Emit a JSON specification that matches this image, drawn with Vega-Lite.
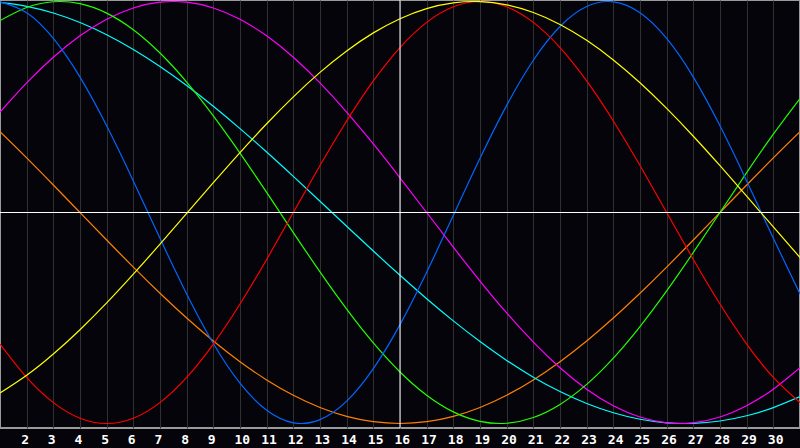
{
  "$schema": "https://vega.github.io/schema/vega-lite/v6.json",
  "width": 800,
  "height": 428,
  "autosize": {"type": "none"},
  "padding": {"left": 0, "top": 0, "right": 0, "bottom": 20},
  "background": "#05040a",
  "config": {
    "view": {"stroke": "#9a9a9a", "strokeWidth": 2},
    "axis": {"labelOverlap": false, "labelSeparation": 0, "labelBound": false}
  },
  "data": {"values": [
    {"day": 1, "Emotional": -0.6235, "Physical": 0.9985, "Intellectual": 0.9096, "Intuitive": 0.4759, "Aesthetic": -0.8558, "Awareness": 0.3827, "Spiritual": 0.9955},
    {"day": 2, "Emotional": -0.7818, "Physical": 0.9468, "Intellectual": 0.9718, "Intuitive": 0.6142, "Aesthetic": -0.7716, "Awareness": 0.2588, "Spiritual": 0.9773},
    {"day": 3, "Emotional": -0.9010, "Physical": 0.8248, "Intellectual": 0.9989, "Intuitive": 0.7357, "Aesthetic": -0.6706, "Awareness": 0.1305, "Spiritual": 0.9454},
    {"day": 4, "Emotional": -0.9749, "Physical": 0.6416, "Intellectual": 0.9898, "Intuitive": 0.8372, "Aesthetic": -0.5555, "Awareness": 0, "Spiritual": 0.9002},
    {"day": 5, "Emotional": -1, "Physical": 0.4108, "Intellectual": 0.9450, "Intuitive": 0.9158, "Aesthetic": -0.4285, "Awareness": -0.1305, "Spiritual": 0.8425},
    {"day": 6, "Emotional": -0.9749, "Physical": 0.1497, "Intellectual": 0.8660, "Intuitive": 0.9694, "Aesthetic": -0.2922, "Awareness": -0.2588, "Spiritual": 0.7727},
    {"day": 7, "Emotional": -0.9010, "Physical": -0.1226, "Intellectual": 0.7557, "Intuitive": 0.9966, "Aesthetic": -0.1499, "Awareness": -0.3827, "Spiritual": 0.6921},
    {"day": 8, "Emotional": -0.7818, "Physical": -0.3859, "Intellectual": 0.6182, "Intuitive": 0.9966, "Aesthetic": -0.0044, "Awareness": -0.5, "Spiritual": 0.6020},
    {"day": 9, "Emotional": -0.6235, "Physical": -0.6206, "Intellectual": 0.4582, "Intuitive": 0.9694, "Aesthetic": 0.1412, "Awareness": -0.6088, "Spiritual": 0.5035},
    {"day": 10, "Emotional": -0.4339, "Physical": -0.8090, "Intellectual": 0.2817, "Intuitive": 0.9158, "Aesthetic": 0.2839, "Awareness": -0.7071, "Spiritual": 0.3977},
    {"day": 11, "Emotional": -0.2225, "Physical": -0.9376, "Intellectual": 0.0950, "Intuitive": 0.8372, "Aesthetic": 0.4205, "Awareness": -0.7934, "Spiritual": 0.2864},
    {"day": 12, "Emotional": 0, "Physical": -0.9966, "Intellectual": -0.0950, "Intuitive": 0.7357, "Aesthetic": 0.5483, "Awareness": -0.8660, "Spiritual": 0.1710},
    {"day": 13, "Emotional": 0.2225, "Physical": -0.9818, "Intellectual": -0.2817, "Intuitive": 0.6142, "Aesthetic": 0.6641, "Awareness": -0.9239, "Spiritual": 0.0534},
    {"day": 14, "Emotional": 0.4339, "Physical": -0.8941, "Intellectual": -0.4582, "Intuitive": 0.4759, "Aesthetic": 0.7658, "Awareness": -0.9659, "Spiritual": -0.0652},
    {"day": 15, "Emotional": 0.6235, "Physical": -0.7399, "Intellectual": -0.6182, "Intuitive": 0.3247, "Aesthetic": 0.8513, "Awareness": -0.9914, "Spiritual": -0.1827},
    {"day": 16, "Emotional": 0.7818, "Physical": -0.5313, "Intellectual": -0.7557, "Intuitive": 0.1646, "Aesthetic": 0.9186, "Awareness": -1, "Spiritual": -0.2977},
    {"day": 17, "Emotional": 0.9010, "Physical": -0.2829, "Intellectual": -0.8660, "Intuitive": 0, "Aesthetic": 0.9664, "Awareness": -0.9914, "Spiritual": -0.4085},
    {"day": 18, "Emotional": 0.9749, "Physical": -0.0136, "Intellectual": -0.9450, "Intuitive": -0.1646, "Aesthetic": 0.9935, "Awareness": -0.9659, "Spiritual": -0.5136},
    {"day": 19, "Emotional": 1, "Physical": 0.2567, "Intellectual": -0.9898, "Intuitive": -0.3247, "Aesthetic": 0.9995, "Awareness": -0.9239, "Spiritual": -0.6116},
    {"day": 20, "Emotional": 0.9749, "Physical": 0.5077, "Intellectual": -0.9989, "Intuitive": -0.4759, "Aesthetic": 0.9842, "Awareness": -0.8660, "Spiritual": -0.7009},
    {"day": 21, "Emotional": 0.9010, "Physical": 0.7215, "Intellectual": -0.9718, "Intuitive": -0.6142, "Aesthetic": 0.9478, "Awareness": -0.7934, "Spiritual": -0.7803},
    {"day": 22, "Emotional": 0.7818, "Physical": 0.8815, "Intellectual": -0.9096, "Intuitive": -0.7357, "Aesthetic": 0.8913, "Awareness": -0.7071, "Spiritual": -0.8487},
    {"day": 23, "Emotional": 0.6235, "Physical": 0.9762, "Intellectual": -0.8146, "Intuitive": -0.8372, "Aesthetic": 0.8158, "Awareness": -0.6088, "Spiritual": -0.9054},
    {"day": 24, "Emotional": 0.4339, "Physical": 0.9985, "Intellectual": -0.6901, "Intuitive": -0.9158, "Aesthetic": 0.7230, "Awareness": -0.5, "Spiritual": -0.9492},
    {"day": 25, "Emotional": 0.2225, "Physical": 0.9468, "Intellectual": -0.5406, "Intuitive": -0.9694, "Aesthetic": 0.6148, "Awareness": -0.3827, "Spiritual": -0.9797},
    {"day": 26, "Emotional": 0, "Physical": 0.8248, "Intellectual": -0.3717, "Intuitive": -0.9966, "Aesthetic": 0.4932, "Awareness": -0.2588, "Spiritual": -0.9966},
    {"day": 27, "Emotional": -0.2225, "Physical": 0.6416, "Intellectual": -0.1893, "Intuitive": -0.9966, "Aesthetic": 0.3614, "Awareness": -0.1305, "Spiritual": -0.9994},
    {"day": 28, "Emotional": -0.4339, "Physical": 0.4108, "Intellectual": 0, "Intuitive": -0.9694, "Aesthetic": 0.2217, "Awareness": 0, "Spiritual": -0.9881},
    {"day": 29, "Emotional": -0.6235, "Physical": 0.1497, "Intellectual": 0.1893, "Intuitive": -0.9158, "Aesthetic": 0.0774, "Awareness": 0.1305, "Spiritual": -0.9631},
    {"day": 30, "Emotional": -0.7818, "Physical": -0.1226, "Intellectual": 0.3717, "Intuitive": -0.8372, "Aesthetic": -0.0685, "Awareness": 0.2588, "Spiritual": -0.9245},
    {"day": 31, "Emotional": -0.9010, "Physical": -0.3859, "Intellectual": 0.5406, "Intuitive": -0.7357, "Aesthetic": -0.2132, "Awareness": 0.3827, "Spiritual": -0.8727}
  ]},
  "layer": [
    {
      "transform": [{"fold": ["Awareness", "Spiritual", "Intuitive", "Intellectual", "Physical", "Emotional", "Aesthetic"], "as": ["series", "value"]}],
      "mark": {"type": "line", "interpolate": "natural", "strokeWidth": 1.2},
      "encoding": {
        "x": {
          "field": "day", "type": "quantitative",
          "scale": {"domain": [1, 31], "nice": false, "zero": false},
          "axis": {
            "values": [2, 3, 4, 5, 6, 7, 8, 9, 10, 11, 12, 13, 14, 15, 16, 17, 18, 19, 20, 21, 22, 23, 24, 25, 26, 27, 28, 29, 30],
            "title": null, "domain": false, "ticks": false,
            "grid": true, "gridColor": "#303030", "gridWidth": 1, "gridOpacity": 1,
            "labelColor": "#ffffff", "labelFont": "DejaVu Sans Mono", "labelFontWeight": "bold", "labelFontSize": 13,
            "labelAlign": "left", "labelOffset": -6, "labelBaseline": "alphabetic", "labelPadding": 15,
            "labelFlush": false, "labelOverlap": false, "labelSeparation": 0, "labelBound": false
          }
        },
        "y": {
          "field": "value", "type": "quantitative",
          "scale": {"domain": [-1.0213, 1.0071], "nice": false, "zero": false},
          "axis": null
        },
        "color": {
          "field": "series", "type": "nominal",
          "scale": {
            "domain": ["Awareness", "Spiritual", "Intuitive", "Intellectual", "Physical", "Emotional", "Aesthetic"],
            "range": ["#ff8000", "#00ffff", "#ff00ff", "#22ff00", "#0066ff", "#ff0000", "#ffff00"]
          },
          "legend": null
        }
      }
    },
    {
      "data": {"values": [{"day": 16}]},
      "mark": {"type": "rule", "color": "#ffffff", "strokeWidth": 1},
      "encoding": {
        "x": {
          "field": "day", "type": "quantitative",
          "scale": {"domain": [1, 31], "nice": false, "zero": false},
          "axis": {
            "values": [2, 3, 4, 5, 6, 7, 8, 9, 10, 11, 12, 13, 14, 15, 16, 17, 18, 19, 20, 21, 22, 23, 24, 25, 26, 27, 28, 29, 30],
            "title": null, "domain": false, "ticks": false,
            "grid": true, "gridColor": "#303030", "gridWidth": 1, "gridOpacity": 1,
            "labelColor": "#ffffff", "labelFont": "DejaVu Sans Mono", "labelFontWeight": "bold", "labelFontSize": 13,
            "labelAlign": "left", "labelOffset": -6, "labelBaseline": "alphabetic", "labelPadding": 15,
            "labelFlush": false, "labelOverlap": false, "labelSeparation": 0, "labelBound": false
          }
        }
      }
    },
    {
      "data": {"values": [{"value": 0}]},
      "mark": {"type": "rule", "color": "#ffffff", "strokeWidth": 1},
      "encoding": {
        "y": {
          "field": "value", "type": "quantitative",
          "scale": {"domain": [-1.0213, 1.0071], "nice": false, "zero": false},
          "axis": null
        }
      }
    }
  ]
}
